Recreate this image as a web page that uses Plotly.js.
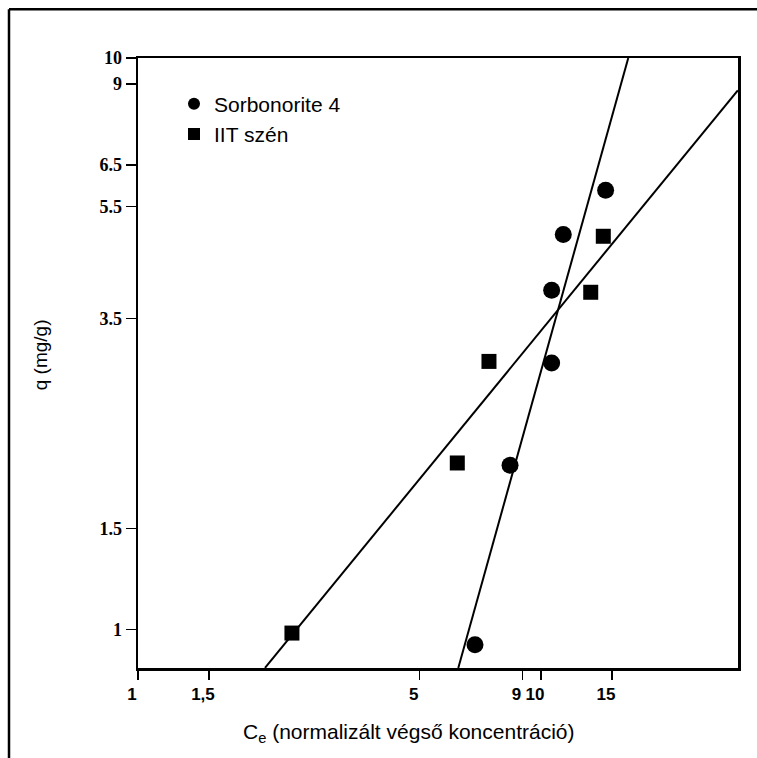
<!DOCTYPE html>
<html>
<head>
<meta charset="utf-8">
<script src="https://cdn.plot.ly/plotly-3.0.1.min.js"></script>
<style>
html,body{margin:0;padding:0;background:#fff;}
#chart{width:757px;height:758px;}
</style>
</head>
<body>
<div id="chart"></div>
<script>
// ---- data ----
var sorbX = [14.47, 11.36, 10.63, 10.63, 8.38, 6.86];
var sorbY = [5.87, 4.91, 3.92, 2.925, 1.937, 0.940];
var iitX = [14.28, 13.29, 7.43, 6.20, 2.41];
var iitY = [4.875, 3.89, 2.944, 1.955, 0.985];
var sorbLineX = [6.235, 16.47];
var sorbLineY = [0.856, 10];
var iitLineX = [2.066, 30.8];
var iitLineY = [0.856, 8.78];
var xTickVals = [1, 1.5, 5, 9, 10, 15];
var xTickText = ['1', '1,5', '5', '9', '10', '15'];
var yTickVals = [1, 1.5, 3.5, 5.5, 6.5, 9, 10];
var yTickText = ['1', '1.5', '3.5', '5.5', '6.5', '9', '10'];
var seriesNames = ['Sorbonorite 4', 'IIT szén'];
var xTitle = 'C<sub>e</sub> (normalizált végső koncentráció)';
var yTitle = 'q (mg/g)';

var traces = [
  {x: sorbLineX, y: sorbLineY, mode: 'lines', line: {color: '#000', width: 2}, showlegend: false, hoverinfo: 'skip'},
  {x: iitLineX, y: iitLineY, mode: 'lines', line: {color: '#000', width: 2}, showlegend: false, hoverinfo: 'skip'},
  {x: sorbX, y: sorbY, mode: 'markers', name: seriesNames[0],
   marker: {symbol: 'circle', size: 17, color: '#000'}},
  {x: iitX, y: iitY, mode: 'markers', name: seriesNames[1],
   marker: {symbol: 'square', size: 15, color: '#000'}}
];

var layout = {
  width: 757, height: 758,
  margin: {l: 138, r: 19, t: 58, b: 90, pad: 0},
  paper_bgcolor: '#fff', plot_bgcolor: '#fff',
  showlegend: true,
  legend: {x: 0.06, y: 0.958, xanchor: 'left', yanchor: 'top',
           bgcolor: 'rgba(0,0,0,0)', borderwidth: 0,
           font: {family: 'Liberation Sans, Arial, sans-serif', size: 21, color: '#000'},
           itemsizing: 'constant', tracegroupgap: 0},
  xaxis: {type: 'log', range: [0, 1.489], autorange: false,
          tickvals: xTickVals, ticktext: xTickText,
          ticks: 'outside', ticklen: 9, tickwidth: 1.5, tickcolor: '#000',
          ticklabelshift: -6,
          tickfont: {family: 'Liberation Sans, Arial, sans-serif', size: 17, color: '#000', weight: 'bold'},
          showline: true, linecolor: '#000', linewidth: 2.5, mirror: true,
          showgrid: false, zeroline: false},
  yaxis: {type: 'log', range: [-0.0677, 1], autorange: false,
          tickvals: yTickVals, ticktext: yTickText,
          ticks: 'outside', ticklen: 10, tickwidth: 1.5, tickcolor: '#000',
          tickfont: {family: 'Liberation Serif, Times New Roman, serif', size: 18, color: '#000', weight: 'bold'},
          showline: true, linecolor: '#000', linewidth: 2.5, mirror: true,
          showgrid: false, zeroline: false},
  annotations: [
    {text: xTitle, xref: 'paper', yref: 'paper', x: 0.45, y: -0.107,
     xanchor: 'center', yanchor: 'middle', showarrow: false,
     font: {family: 'Liberation Sans, Arial, sans-serif', size: 21, color: '#000'}},
    {text: yTitle, xref: 'paper', yref: 'paper', x: -0.163, y: 0.513,
     xanchor: 'center', yanchor: 'middle', showarrow: false, textangle: -90,
     font: {family: 'Liberation Sans, Arial, sans-serif', size: 19, color: '#000'}}
  ],
  shapes: [
    {type: 'line', xref: 'paper', yref: 'paper', x0: -0.215, x1: 1.05, y0: 1.0798, y1: 1.0798,
     line: {color: '#000', width: 2.5}},
    {type: 'line', xref: 'paper', yref: 'paper', x0: -0.215, x1: -0.215, y0: 1.0798, y1: -0.16,
     line: {color: '#000', width: 2.5}}
  ]
};

Plotly.newPlot('chart', traces, layout, {displayModeBar: false, staticPlot: true});
</script>
</body>
</html>
